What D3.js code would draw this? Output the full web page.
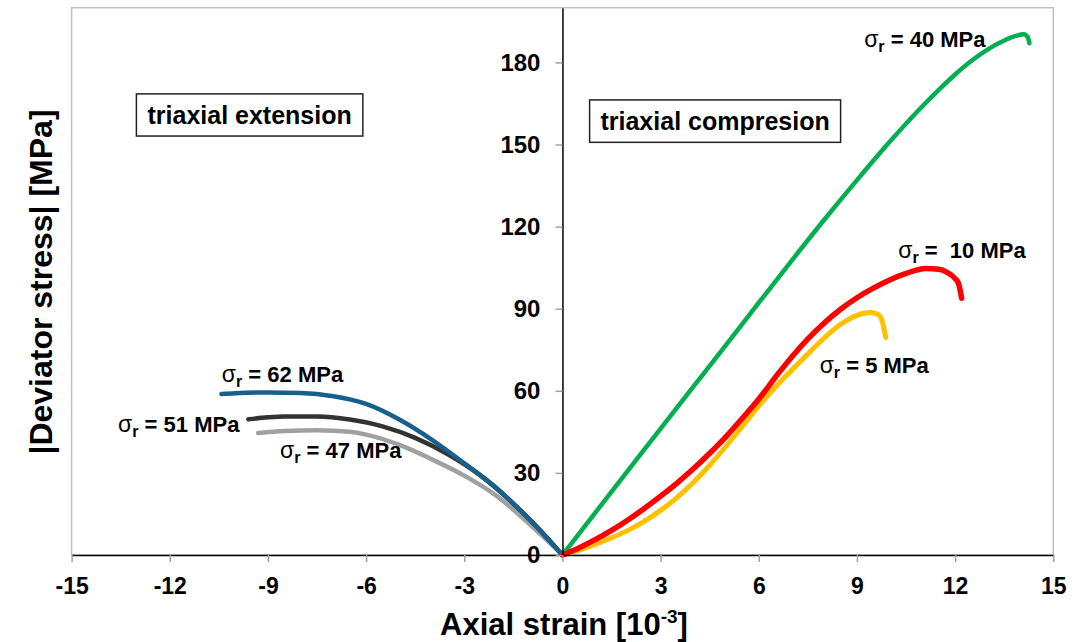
<!DOCTYPE html>
<html>
<head>
<meta charset="utf-8">
<script src="https://cdn.jsdelivr.net/npm/d3@7"></script>
<style>
  body { margin: 0; background: #fff; }
  svg { font-family: "Liberation Sans", Arial, sans-serif; }
</style>
</head>
<body>
<svg id="chart" width="1086" height="642"></svg>
<script>
// ticks
const xTicks = [-15, -12, -9, -6, -3, 0, 3, 6, 9, 12, 15];
const yTicks = [0, 30, 60, 90, 120, 150, 180];

// triaxial compression curves [strain 1e-3, stress MPa]
const comp40 = [[0,0],[1,15.4],[2,30.8],[3,46.2],[4,61.5],[5,76.8],[6,92.2],[7,107.5],[8,122.5],[9,137],[10,151],[11,164],[11.5,170],[12,175.6],[12.5,180.6],[13,184.8],[13.5,188],[13.8,189.5],[14.1,190.3],[14.22,189.2],[14.27,187]];
const comp10 = [[0,0],[0.5,2.6],[1,5.6],[1.5,9],[2,12.8],[2.5,17],[3,21.5],[3.5,26.3],[4,31.5],[4.5,37.2],[5,43.3],[5.5,50],[6,57],[6.64,67],[7,72.3],[7.5,79],[8,84.8],[8.5,89.8],[9,94],[9.5,97.5],[10,100.5],[10.5,102.9],[11.1,104.7],[11.5,104.4],[11.75,103.3],[12,101],[12.1,99.3],[12.2,93.8]];
const comp5 = [[0,0],[0.5,1.8],[1,3.9],[1.5,6.3],[2,9],[2.5,12.3],[3,16.3],[3.5,21],[4,26.5],[4.5,32.8],[5,39.8],[5.5,47.1],[6,54.5],[6.5,61.3],[7,67.5],[7.5,73.5],[8,79.3],[8.5,84.3],[9,87.6],[9.4,88.6],[9.65,87.9],[9.75,86.3],[9.82,83],[9.88,79.5]];

// triaxial extension curves
const ext62 = [[-10.42,58.8],[-10,59.1],[-9,59.4],[-8,59.2],[-7,58],[-6,55.2],[-5,49.6],[-4,42.2],[-3,33.5],[-2,24.3],[-1,12.8],[0,0]];
const ext51 = [[-9.6,49.6],[-9,50.3],[-8.5,50.6],[-7.5,50.6],[-6.5,49.5],[-5.5,47],[-4.5,42.8],[-3.5,36.8],[-2.5,29],[-1.5,18.8],[-0.7,9.3],[0,0]];
const ext47 = [[-9.3,44.6],[-8.5,45.3],[-7.5,45.6],[-6.5,45],[-6,44],[-5,40.3],[-4,35],[-3,29],[-2,21.5],[-1,11.2],[0,0]];

const series = [
  { data: ext47, color: "#a0a0a0", w: 4.5 },
  { data: ext51, color: "#333333", w: 4.5 },
  { data: ext62, color: "#17608e", w: 4.5 },
  { data: comp40, color: "#00b050", w: 4.5 },
  { data: comp5, color: "#ffc000", w: 5 },
  { data: comp10, color: "#ff0000", w: 5.5 }
];

// curve labels: text after sigma_r, anchor point in data units
const labelText = [" = 40 MPa", " =  10 MPa", " = 5 MPa", " = 62 MPa", " = 51 MPa", " = 47 MPa"];
const labelPos = [[9.22,185.8],[10.26,108.6],[7.86,66.4],[-10.41,63.3],[-13.58,44.9],[-8.63,35.3]];

const svg = d3.select("#chart");

const x = d3.scaleLinear().domain([-15, 15]).range([71.6, 1053.3]);
const y = d3.scaleLinear().domain([0, 200]).range([555, 7.7]);

// plot frame
svg.append("rect")
  .attr("x", x(-15)).attr("y", y(200))
  .attr("width", x(15) - x(-15)).attr("height", y(0) - y(200))
  .attr("fill", "none").attr("stroke", "#c0c0c0").attr("stroke-width", 1.5);

// boxes
const boxes = [
  { text: "triaxial extension", x0: -13.02, x1: -6.1, y0: 168.5, y1: 153.1 },
  { text: "triaxial compresion", x0: 0.83, x1: 8.5, y0: 166.3, y1: 150.8 }
];
boxes.forEach(b => {
  svg.append("rect")
    .attr("x", x(b.x0)).attr("y", y(b.y0))
    .attr("width", x(b.x1) - x(b.x0)).attr("height", y(b.y1) - y(b.y0))
    .attr("fill", "#fff").attr("stroke", "#222").attr("stroke-width", 1.5);
  svg.append("text")
    .attr("x", (x(b.x0) + x(b.x1)) / 2).attr("y", (y(b.y0) + y(b.y1)) / 2 + 9)
    .attr("text-anchor", "middle")
    .attr("font-size", 25).attr("font-weight", "bold")
    .text(b.text);
});

// curves
const line = d3.line()
  .x(d => x(d[0])).y(d => y(d[1]))
  .curve(d3.curveMonotoneX);

svg.append("g").selectAll("path")
  .data(series)
  .enter().append("path")
  .attr("d", d => line(d.data))
  .attr("fill", "none")
  .attr("stroke", d => d.color)
  .attr("stroke-width", d => d.w)
  .attr("stroke-linecap", "round")
  .attr("stroke-linejoin", "round");

// x axis
const xAxis = svg.append("g")
  .attr("transform", `translate(0,${y(0)})`)
  .call(d3.axisBottom(x).tickValues(xTicks).tickFormat(d => d.toString())
    .tickSize(7).tickSizeOuter(0).tickPadding(16));
xAxis.select(".domain").attr("stroke", "#000").attr("stroke-width", 1.5);
xAxis.selectAll(".tick line").attr("stroke", "#a0a0a0").attr("stroke-width", 1.5);
xAxis.selectAll(".tick text")
  .attr("font-size", 23).attr("font-weight", "bold")
  .attr("font-family", "Liberation Sans, Arial, sans-serif").attr("fill", "#000");

// y axis
const yAxis = svg.append("g")
  .attr("transform", `translate(${x(0)},0)`)
  .call(d3.axisLeft(y).tickValues(yTicks).tickFormat(d => d.toString())
    .tickSize(7).tickSizeOuter(0).tickPadding(15));
yAxis.select(".domain").attr("stroke", "#000").attr("stroke-width", 1.5);
yAxis.selectAll(".tick line").attr("stroke", "#a0a0a0").attr("stroke-width", 1.5);
yAxis.selectAll(".tick text")
  .attr("font-size", 24).attr("font-weight", "bold")
  .attr("font-family", "Liberation Sans, Arial, sans-serif").attr("fill", "#000");

// curve labels
labelText.forEach((t, i) => {
  const tx = svg.append("text")
    .attr("x", x(labelPos[i][0])).attr("y", y(labelPos[i][1]))
    .attr("font-size", 22).attr("font-weight", "bold")
    .attr("xml:space", "preserve").style("white-space", "pre");
  tx.append("tspan").attr("font-weight", "normal").attr("font-size", 23).text("σ");
  tx.append("tspan").attr("font-size", 16).attr("dy", 5).text("r");
  tx.append("tspan").attr("dy", -5).text(t);
});

// axis titles
const xt = svg.append("text")
  .attr("x", 564).attr("y", 635)
  .attr("text-anchor", "middle")
  .attr("font-size", 31).attr("font-weight", "bold");
xt.append("tspan").text("Axial strain [10");
xt.append("tspan").attr("font-size", 19).attr("dy", -12).text("-3");
xt.append("tspan").attr("dy", 12).text("]");

svg.append("text")
  .attr("transform", "translate(52,282) rotate(-90)")
  .attr("text-anchor", "middle")
  .attr("font-size", 32).attr("font-weight", "bold")
  .text("|Deviator stress| [MPa]");
</script>
</body>
</html>
